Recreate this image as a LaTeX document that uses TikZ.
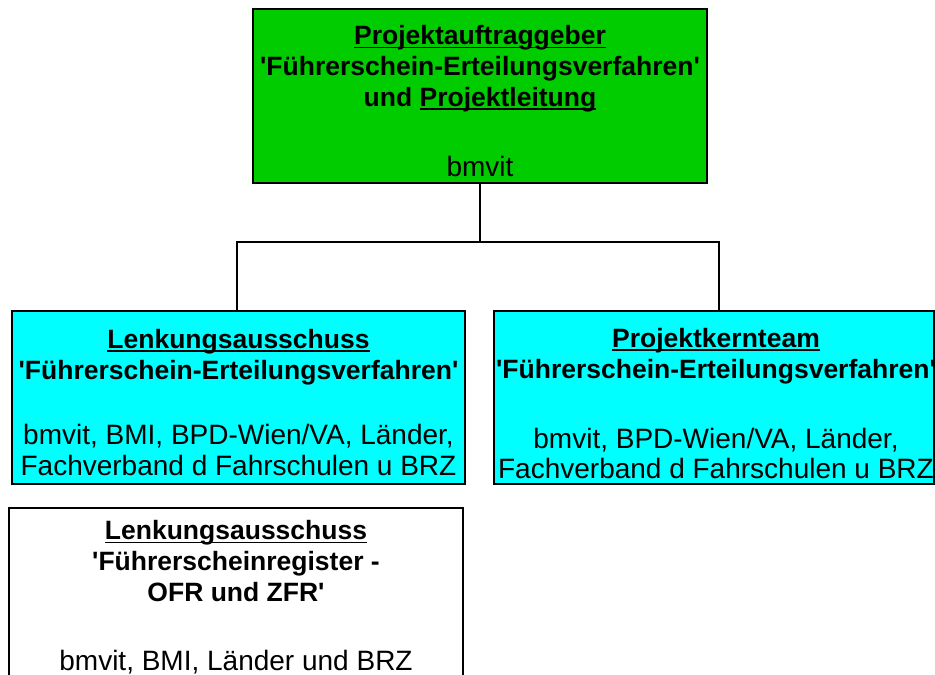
\documentclass[tikz,border=0pt]{standalone}
\usepackage{fontspec}
\setmainfont{Liberation Sans}[Ligatures=TeXOff]
\definecolor{boxgreen}{RGB}{0,204,0}
\definecolor{boxcyan}{RGB}{0,255,255}
\newcommand\myul[1]{\setbox0\hbox{#1}\rlap{\rule[-3.5pt]{\wd0}{1.6pt}}\box0}
\tikzset{
  orgbox/.style={draw=black, line width=1.5pt, rectangle, inner sep=0pt},
  headtxt/.style={align=center, inner sep=0pt, font=\fontsize{26.5}{30.8}\selectfont\bfseries},
  membtxt/.style={align=center, inner sep=0pt, font=\fontsize{28}{30.5}\selectfont},
  conn/.style={draw=black, line width=1.5pt}
}
\begin{document}
\begin{tikzpicture}[x=1pt,y=-1pt]
\useasboundingbox (0,0) rectangle (935,675);
\begin{scope}
\clip (0,0) rectangle (935,675);
% boxes
\node[orgbox, fill=boxgreen, minimum width=454pt, minimum height=174pt] (pa) at (480,96) {};
\node[orgbox, fill=boxcyan, minimum width=453pt, minimum height=173pt] (lk) at (238.5,397.5) {};
\node[orgbox, fill=boxcyan, minimum width=440pt, minimum height=173pt] (pk) at (714,397.5) {};
\node[orgbox, fill=white, minimum width=454pt, minimum height=200pt] (lr) at (236,608) {};
% connectors
\coordinate (j) at (480,242);
\draw[conn] (pa.south) -- (j);
\draw[conn] (j) -| ([xshift=-1.5pt]lk.north);
\draw[conn] (j) -| ([xshift=5pt]pk.north);
% texts
\node[headtxt] (pah) at (480,69) {\myul{Projektauftraggeber}\\'Führerschein-Erteilungsverfahren'\\und \myul{Projektleitung}};
\node[membtxt] (pam) at (480,166) {bmvit};
\node[headtxt] (lkh) at (238.5,357) {\myul{Lenkungsausschuss}\\'Führerschein-Erteilungsverfahren'};
\node[membtxt] (lkm) at (238.5,450) {bmvit, BMI, BPD-Wien/VA, Länder,\\Fachverband d Fahrschulen u BRZ};
\node[headtxt] (pkh) at (716,356) {\myul{Projektkernteam}\\'Führerschein-Erteilungsverfahren'};
\node[membtxt] (pkm) at (716,453.5) {bmvit, BPD-Wien/VA, Länder,\\Fachverband d Fahrschulen u BRZ};
\node[headtxt] (lrh) at (236,561) {\myul{Lenkungsausschuss}\\'Führerscheinregister -\\OFR und ZFR'};
\node[membtxt] (lrm) at (236,662) {bmvit, BMI, Länder und BRZ};
\end{scope}
\end{tikzpicture}
\end{document}
